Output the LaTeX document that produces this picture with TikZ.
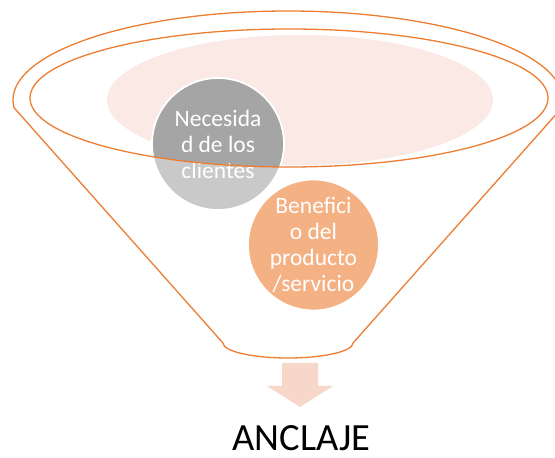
\documentclass[tikz,border=0pt]{standalone}
\usepackage{fontspec}
\setmainfont{Carlito}
\definecolor{funnel}{HTML}{ED7D31}
\definecolor{pinkfill}{HTML}{FBE9E5}
\definecolor{graydark}{HTML}{A5A5A5}
\definecolor{graylight}{HTML}{C9C9C9}
\definecolor{orangefill}{HTML}{F4B183}
\definecolor{arrowfill}{HTML}{F8D7CB}
\begin{document}
\begin{tikzpicture}[x=1pt,y=1pt,
  outline/.style={draw=funnel, line width=1.3pt},
  bubble/.style={circle, minimum size=132pt, inner sep=0pt, draw=white, line width=1.8pt,
    text=white, align=center, font=\fontsize{23.5}{26}\selectfont},
  label/.style={font=\fontsize{38.5}{40}\selectfont, text=black, anchor=base, inner sep=0pt, text depth=0pt}]
\useasboundingbox (0,0) rectangle (555,458);
% light fill in the funnel mouth
\fill[pinkfill] (300,358) ellipse[x radius=193pt, y radius=65pt];
% grey circle, darker where it lies inside the mouth
\fill[graylight] (218,314) circle[radius=66pt];
\begin{scope}
  \clip (289,360) ellipse[x radius=259pt, y radius=69pt];
  \fill[graydark] (218,314) circle[radius=66pt];
\end{scope}
\node[bubble, fill=none] (need) at (218,314) {Necesida\\d de los\\clientes};
\node[bubble, fill=orangefill, minimum size=131pt] (benefit) at (313.5,213) {Benefici\\o del\\producto\\/servicio};
% funnel outlines
\draw[outline] (288,358) ++(185:275pt and 89pt)
  arc[start angle=185, end angle=-5, x radius=275pt, y radius=89pt]
  -- (353,115)
  arc[start angle=0, end angle=-180, x radius=65pt, y radius=15pt]
  -- cycle;
\draw[outline] (289,360) ellipse[x radius=259pt, y radius=69pt];
% arrow
\fill[arrowfill] (282,95) -- (318,95) -- (318,72) -- (333,72) -- (300,51)
  -- (267,72) -- (282,72) -- cycle;
\node[label] (anchor) at (301.5,7) {ANCLAJE};
\end{tikzpicture}
\end{document}
